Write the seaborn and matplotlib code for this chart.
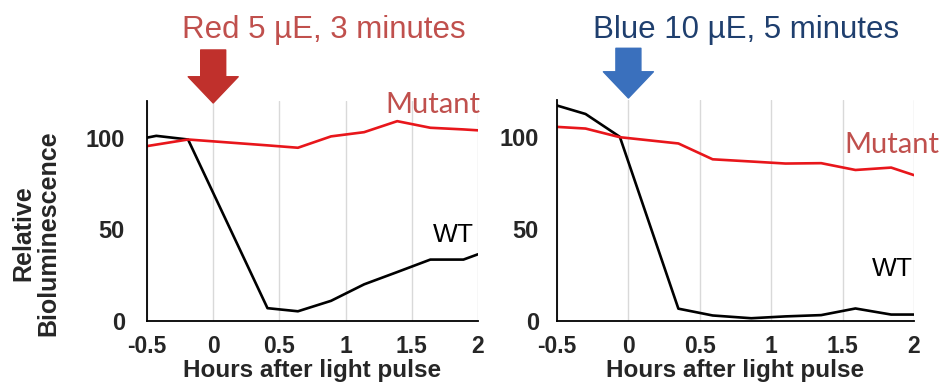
import matplotlib
matplotlib.use("Agg")
import matplotlib.pyplot as plt
import seaborn as sns
import pandas as pd

# ---- data ----
red_wt_t = [-0.5, -0.43, -0.19, 0.41, 0.64, 0.89, 1.14, 1.39, 1.64, 1.89, 2.0]
red_wt_v = [100, 101, 99, 7, 5.3, 11, 20, 26.7, 33.5, 33.5, 36.4]
red_mut_t = [-0.5, -0.19, 0.41, 0.64, 0.89, 1.14, 1.39, 1.64, 1.89, 2.0]
red_mut_v = [95.4, 99, 95.8, 94.5, 100.7, 103, 109, 105.4, 104.5, 104]

blue_t = [-0.5, -0.3, -0.06, 0.35, 0.59, 0.86, 1.1, 1.35, 1.59, 1.84, 2.0]
blue_wt_v = [117, 112.4, 100, 6.7, 3, 1.5, 2.5, 3.2, 6.8, 3.5, 3.5]
blue_mut_v = [105.4, 104.5, 99.8, 96.4, 87.8, 86.6, 85.5, 85.7, 82, 83.3, 79.2]

x_ticks = [-0.5, 0, 0.5, 1, 1.5, 2]
x_ticklabels = ["-0.5", "0", "0.5", "1", "1.5", "2"]
y_ticks = [0, 50, 100]
y_ticklabels = ["0", "50", "100"]

titles = ["Red 5 \u00b5E, 3 minutes", "Blue 10 \u00b5E, 5 minutes"]
xlabel = "Hours after light pulse"
ylabel = "Relative\nBioluminescence"

df_red = pd.concat([
    pd.DataFrame({"t": red_wt_t, "v": red_wt_v, "g": "WT"}),
    pd.DataFrame({"t": red_mut_t, "v": red_mut_v, "g": "Mutant"}),
])
df_blue = pd.concat([
    pd.DataFrame({"t": blue_t, "v": blue_wt_v, "g": "WT"}),
    pd.DataFrame({"t": blue_t, "v": blue_mut_v, "g": "Mutant"}),
])

sns.set_style("white")
plt.rcParams["font.family"] = ["Liberation Sans", "DejaVu Sans"]

RED_LINE = "#e8161b"
LABEL_RED = "#c0504d"
TITLE_BLUE = "#1f3f6e"
palette = {"WT": "black", "Mutant": RED_LINE}

fig = plt.figure(figsize=(9.45, 3.9), dpi=100)
axL = fig.add_axes([147/945, 69/390, 331/945, 220/390])
axR = fig.add_axes([557/945, 69/390, 357/945, 221/390])

for ax, df in [(axL, df_red), (axR, df_blue)]:
    sns.lineplot(data=df, x="t", y="v", hue="g", palette=palette, ax=ax,
                 linewidth=1.9, legend=False, estimator=None, sort=False)
    ax.set_xlim(-0.5, 2)
    ax.set_ylim(0, 120)
    ax.set_xticks(x_ticks)
    ax.set_xticklabels(x_ticklabels, fontsize=16.5, fontweight="bold")
    ax.set_yticks(y_ticks)
    ax.set_yticklabels(y_ticklabels, fontsize=17, fontweight="bold")
    ax.tick_params(axis="both", length=0)
    ax.tick_params(axis="x", pad=10)
    ax.grid(axis="x", color="#d9d9d9", linewidth=1)
    ax.grid(axis="y", visible=False)
    sns.despine(ax=ax)
    for s in ["left", "bottom"]:
        ax.spines[s].set_color("black")
        ax.spines[s].set_linewidth(1.3)
    ax.set_xlabel(xlabel, fontsize=17.5, fontweight="bold", labelpad=0.5)
    ax.set_ylabel("")

axL.tick_params(axis="y", pad=16)
axR.tick_params(axis="y", pad=13)

# y label on the left panel only
axL.set_ylabel(ylabel, fontsize=18, fontweight="bold", linespacing=1.05)
axL.yaxis.set_label_coords(-0.263, 0.398)

# titles
axL.text(0.833, 1.286, titles[0], transform=axL.get_xaxis_transform(), color=LABEL_RED,
         fontsize=22.5, ha="center", va="baseline")
axR.text(0.823, 1.279, titles[1], transform=axR.get_xaxis_transform(), color=TITLE_BLUE,
         fontsize=22.5, ha="center", va="baseline")

# arrows
axL.annotate("", xy=(0, 0.991), xycoords=("data", "axes fraction"),
             xytext=(0, 1.232), textcoords=("data", "axes fraction"),
             arrowprops=dict(arrowstyle="simple,head_width=2.0,head_length=1.05,tail_width=1.0",
                             mutation_scale=18, color="#c0302c", shrinkA=0, shrinkB=0),
             annotation_clip=False)
axR.annotate("", xy=(0, 1.009), xycoords=("data", "axes fraction"),
             xytext=(0, 1.234), textcoords=("data", "axes fraction"),
             arrowprops=dict(arrowstyle="simple,head_width=2.0,head_length=1.05,tail_width=1.0",
                             mutation_scale=18, color="#3a70bd", shrinkA=0, shrinkB=0),
             annotation_clip=False)

# series labels
axL.text(2.02, 113.5, "Mutant", color=LABEL_RED, fontsize=21, family=["Lato", "DejaVu Sans"],
         ha="right", va="baseline", clip_on=False)
axL.text(1.97, 42.9, "WT", color="black", fontsize=19, ha="right", va="baseline", clip_on=False)
axR.text(2.18, 91.4, "Mutant", color=LABEL_RED, fontsize=21, family=["Lato", "DejaVu Sans"],
         ha="right", va="baseline", clip_on=False)
axR.text(1.993, 24.3, "WT", color="black", fontsize=19, ha="right", va="baseline", clip_on=False)

fig.savefig("out.png", dpi=100)
